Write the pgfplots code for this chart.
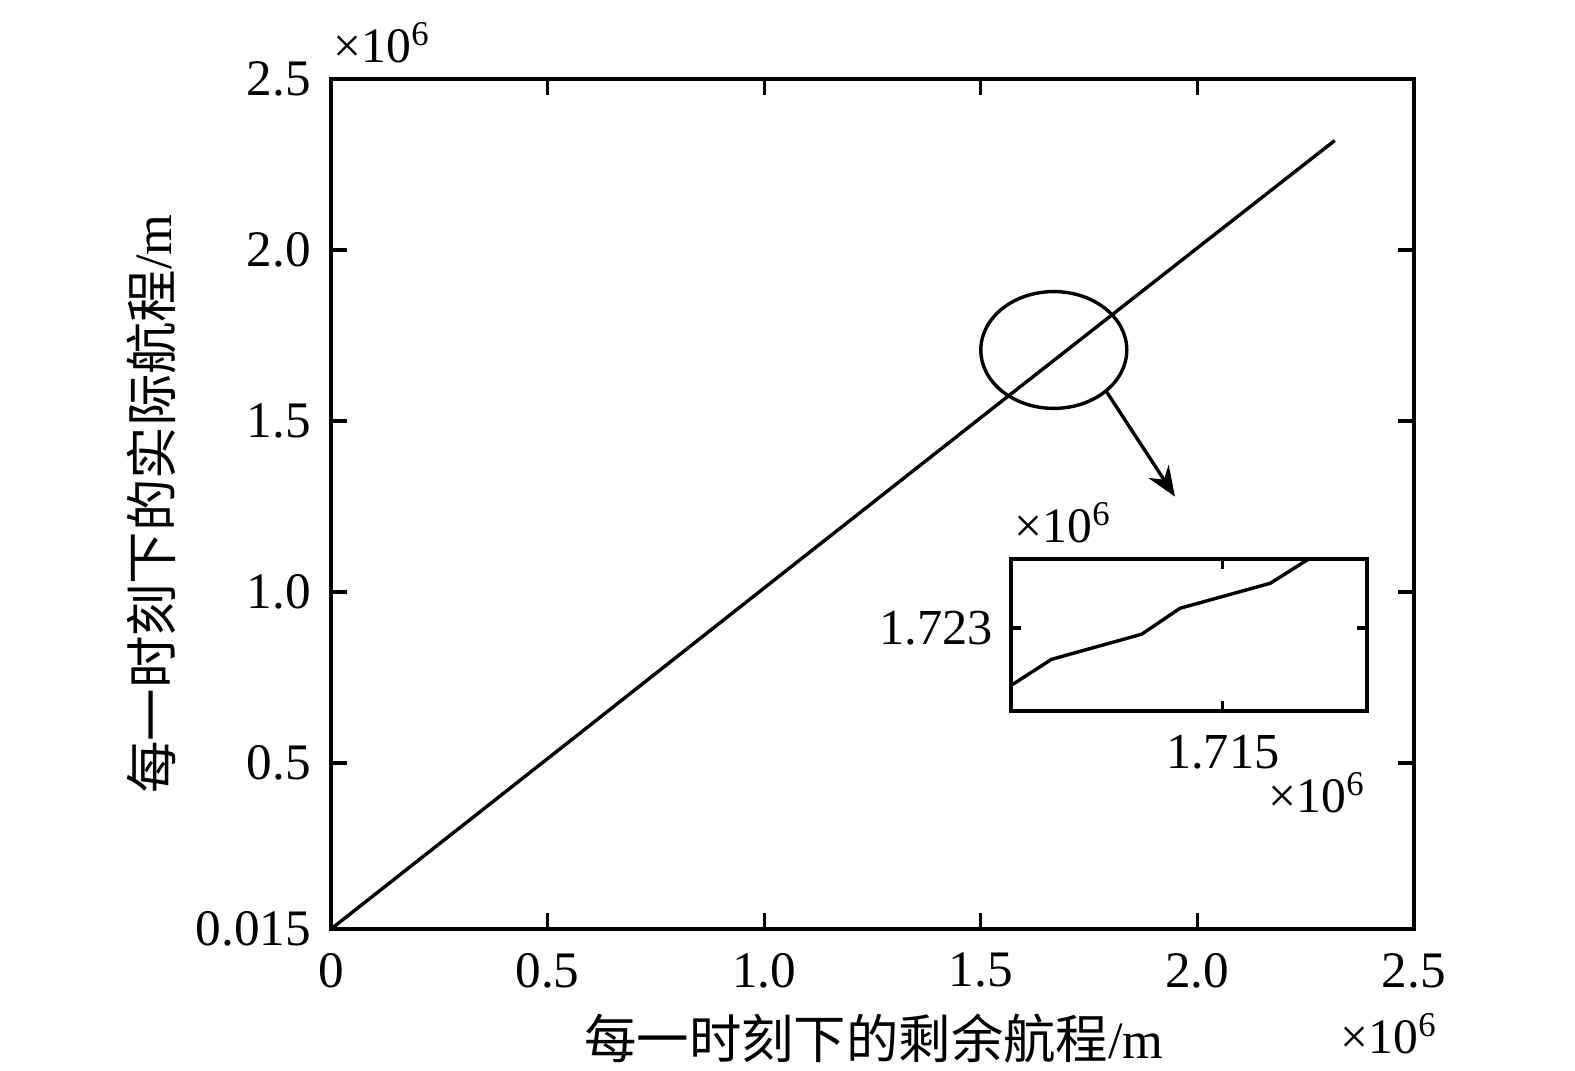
\documentclass[border=0pt]{standalone}
\usepackage{fontspec}
\setmainfont{Liberation Serif}
\newfontfamily\cjk{Noto Sans CJK SC}
\usepackage{pgfplots}
\pgfplotsset{compat=1.18}
\usetikzlibrary{arrows.meta}
\begin{document}
\begin{tikzpicture}
\path[use as bounding box] (-82.75pt,-35.5pt) rectangle (311pt,232.25pt);
\begin{axis}[
  at={(0pt,0pt)}, anchor=south west,
  scale only axis, width=270.75pt, height=212.5pt,
  xmin=0, xmax=2.5, ymin=0.015, ymax=2.5,
  xtick={0,0.5,1,1.5,2,2.5}, xticklabels={0,0.5,1.0,1.5,2.0,2.5},
  ytick={0.015,0.5,1,1.5,2,2.5}, yticklabels={0.015,0.5,1.0,1.5,2.0,2.5},
  tick align=inside, major tick length=4pt,
  axis line style={line width=0.9pt},
  tick style={line width=0.8pt, black},
  ticklabel style={font=\fontsize{12.8}{14}\selectfont},
  xticklabel style={yshift=-2.5pt},
  yticklabel style={xshift=-1.5pt},
  scaled ticks=false,
]
\addplot[black, line width=0.85pt] coordinates {(0,0.015) (0.5,0.513) (1.0,1.012) (1.5,1.51) (2.0,2.006) (2.317,2.32)};
\end{axis}
% ellipse and arrow annotation
\draw[line width=0.85pt] (180.7pt,144.75pt) ellipse [x radius=18.25pt, y radius=14.6pt];
\draw[line width=0.85pt, -{Stealth[length=7.5pt, width=6pt]}] (193.9pt,134.3pt) -- (211pt,108.1pt);
\begin{axis}[
  at={(170pt,54.5pt)}, anchor=south west,
  scale only axis, width=89pt, height=38pt,
  xmin=1.70905, xmax=1.71905, ymin=1.71754, ymax=1.72754,
  xtick={1.715}, xticklabels={1.715},
  ytick={1.723}, yticklabels={1.723},
  tick align=inside, major tick length=2.5pt,
  axis line style={line width=0.9pt},
  tick style={line width=0.8pt, black},
  ticklabel style={font=\fontsize{12.6}{14}\selectfont},
  xticklabel style={yshift=-2.5pt},
  yticklabel style={xshift=-1pt},
  scaled ticks=false,
  axis background/.style={fill=white},
]
\addplot[black, line width=0.85pt] coordinates {(1.70907,1.71925) (1.71019,1.72094) (1.71272,1.72259) (1.71380,1.72430) (1.71633,1.72594) (1.71740,1.72752)};
\end{axis}
% multiplier labels
\node[anchor=base west, inner sep=0pt, font=\fontsize{12.4}{14}\selectfont] at (0.5pt,216.5pt) {×10\textsuperscript{6}};
\node[anchor=base west, inner sep=0pt, font=\fontsize{12.4}{14}\selectfont] at (252.25pt,-31.25pt) {×10\textsuperscript{6}};
\node[anchor=base west, inner sep=0pt, font=\fontsize{12.4}{14}\selectfont] at (170.75pt,96.5pt) {×10\textsuperscript{6}};
\node[anchor=base west, inner sep=0pt, font=\fontsize{12.4}{14}\selectfont] at (234.25pt,29pt) {×10\textsuperscript{6}};
% axis labels
\node[anchor=base, inner sep=0pt, font=\fontsize{13.1}{15}\selectfont] at (135.75pt,-32.5pt) {{\cjk 每一时刻下的剩余航程}/m};
\node[anchor=base, inner sep=0pt, rotate=90, font=\fontsize{13.1}{15}\selectfont] at (-39.75pt,106.25pt) {{\cjk 每一时刻下的实际航程}/m};
\end{tikzpicture}
\end{document}
